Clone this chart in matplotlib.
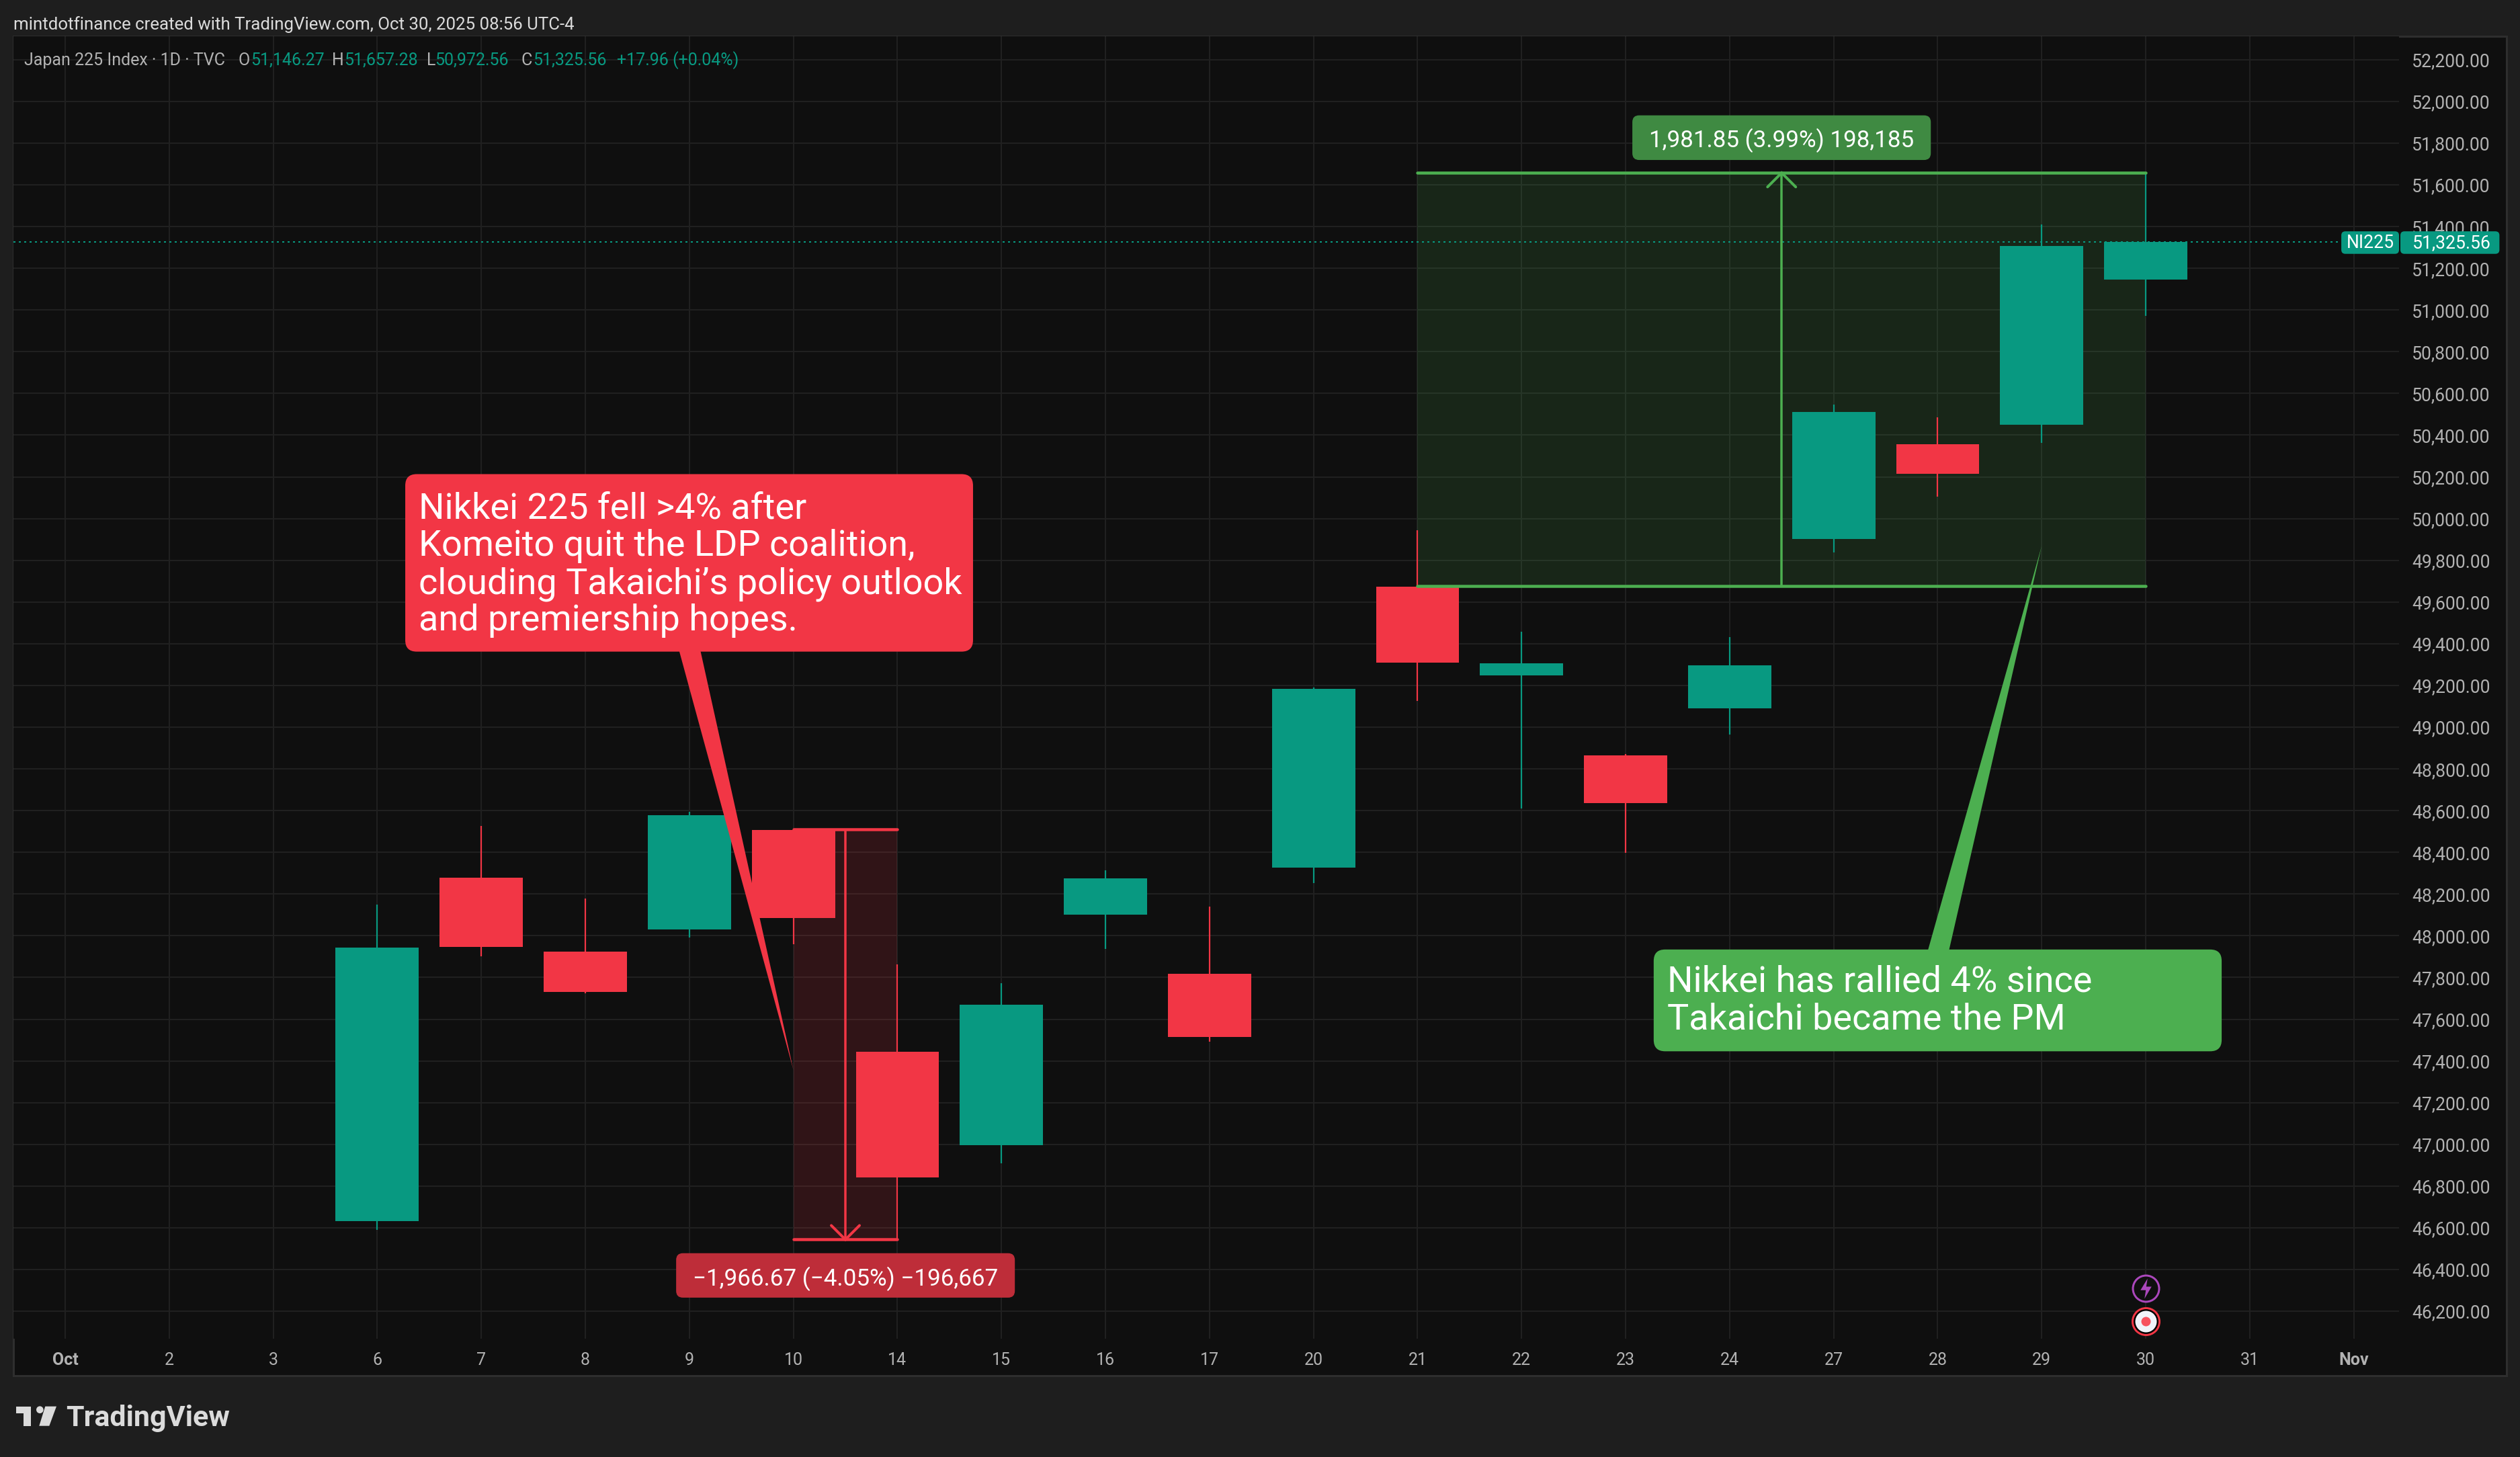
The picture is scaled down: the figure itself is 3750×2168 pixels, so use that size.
import matplotlib
matplotlib.use("Agg")
import matplotlib.pyplot as plt
from matplotlib.patches import FancyBboxPatch, Rectangle, Polygon, Ellipse
from matplotlib.path import Path

W, H = 3750, 2168
DPI = 100
def pt(px): return px * 72 / DPI

# ---------- data ----------
tick_labels = ["Oct","2","3","6","7","8","9","10","14","15","16","17","20","21","22","23","24","27","28","29","30","31","Nov"]
bar_pos = [3,4,5,6,7,8,9,10,11,12,13,14,15,16,17,18,19,20]
opens  = [46632,48278,47924,48030,48508,47444,46996,48101,47818,48326,49674,49248,48865,49091,49902,50356,50449,51146.27]
highs  = [48150,48526,48178,48594,48510,47862,47772,48314,48140,49190,49944,49457,48870,49432,50546,50484,51409,51657.28]
lows   = [46590,47902,47725,47991,47960,46543,46909,47937,47492,48253,49126,48610,48398,48965,49837,50105,50363,50972.56]
closes = [47943,47947,47730,48578,48085,46842,47669,48275,47515,49184,49309,49306,48636,49296,50510,50214,51306,51325.56]
y_ticks = list(range(46200, 52201, 200))
last_price = 51325.56

down_x = [7, 8]; down_y = [48510.0, 46543.33]
up_x = [13, 20]; up_y = [49675.43, 51657.28]

# ---------- colours ----------
BG_OUT = "#1E1E1E"; BG = "#0F0F0F"; BORDER = "#2E2E2E"; GRID = "#202020"
UP = "#089981"; DOWN = "#F23645"; GREEN = "#4CAF50"; TXT = "#B2B2B2"
FONT = "Roboto"; AXF = "Roboto"

fig = plt.figure(figsize=(W/DPI, H/DPI), dpi=DPI, facecolor=BG_OUT)
def fpx(x, y): return x / W, 1 - y / H

# outer pane
fig.add_artist(Rectangle((20/W, 1-2047/H), (3730-20)/W, (2047-54)/H, transform=fig.transFigure,
                         facecolor=BG, edgecolor=BORDER, linewidth=pt(3), zorder=-5))

L, R, T, B = 20, 3570, 54, 1992
ax = fig.add_axes([L/W, 1-B/H, (R-L)/W, (B-T)/H], zorder=1)
ax.set_facecolor(BG)
for s in ax.spines.values(): s.set_visible(False)
ax.set_xlim(-0.4974, 22.435)
ax.set_ylim(46068, 52312)
ax.set_axisbelow(True)
ax.grid(True, color=GRID, linewidth=pt(2))

ax.set_xticks(range(len(tick_labels)))
ax.set_xticklabels(tick_labels, fontname=AXF, fontsize=pt(25), color=TXT)
for lab in ax.get_xticklabels():
    if lab.get_text() in ("Oct", "Nov"):
        lab.set_fontweight("bold")
ax.yaxis.tick_right()
ax.set_yticks(y_ticks)
ax.set_yticklabels([f"{v:,.2f}" for v in y_ticks], fontname=AXF, fontsize=pt(26.5), color=TXT, va="center_baseline")
ax.tick_params(axis="x", length=0, pad=pt(20))
ax.tick_params(axis="y", length=0, pad=pt(19))

# measure tools (fills)
ax.add_patch(Rectangle((down_x[0], down_y[1]), down_x[1]-down_x[0], down_y[0]-down_y[1],
                       facecolor=DOWN, alpha=0.15, edgecolor="none", zorder=1))
ax.add_patch(Rectangle((up_x[0], up_y[0]), up_x[1]-up_x[0], up_y[1]-up_y[0],
                       facecolor=GREEN, alpha=0.15, edgecolor="none", zorder=1))

# price line
ax.plot([-0.4974, 21.88], [last_price, last_price], color=UP, lw=pt(2),
        linestyle=(0, (1.5, 2.5)), zorder=2, dash_capstyle="butt")

# candles
bw = 0.80
for x, o, h, l, c in zip(bar_pos, opens, highs, lows, closes):
    col = UP if c >= o else DOWN
    ax.plot([x, x], [l, h], color=col, lw=pt(2.2), solid_capstyle="butt", zorder=3)
    ax.add_patch(Rectangle((x-bw/2, min(o, c)), bw, abs(c-o), facecolor=col, edgecolor="none", zorder=3.1))

# measure tools (lines, arrows)
def arrow(xs, ys, col, tip_y, sign):
    xm = (xs[0]+xs[1])/2
    for y in ys:
        ax.plot(xs, [y, y], color=col, lw=pt(4.5), solid_capstyle="round", zorder=4)
    ax.plot([xm, xm], ys, color=col, lw=pt(3.5), zorder=4, solid_capstyle="butt")
    dx = 21/154.8; dy = 21/0.3104
    ax.plot([xm-dx, xm, xm+dx], [tip_y-sign*dy, tip_y, tip_y-sign*dy], color=col, lw=pt(4),
            solid_capstyle="round", solid_joinstyle="miter", zorder=4)
arrow(down_x, down_y, DOWN, down_y[1], -1)
arrow(up_x, up_y, GREEN, up_y[1], 1)

ASPECT = (1/0.3104) / (1/154.8)
def rbox(x0, x1, y0, y1, col, r_px, z=6, clip=True):
    b = FancyBboxPatch((x0, y0), x1-x0, y1-y0,
                       boxstyle=f"round,pad=0,rounding_size={r_px/154.8}",
                       mutation_aspect=ASPECT, facecolor=col, edgecolor="none", zorder=z, clip_on=clip)
    ax.add_patch(b)

# measure labels
rbox(15.065, 17.934, 51719, 51933, "#3F8A42", 10)
ax.text(16.5, 51813, "1,981.85 (3.99%) 198,185", color="white", fontname=FONT, fontsize=pt(35),
        ha="center", va="center", zorder=7)
rbox(5.873, 9.129, 46265, 46478, "#BE2D39", 10)
ax.text(7.5, 46357, "\u22121,966.67 (\u22124.05%) \u2212196,667", color="white", fontname=FONT, fontsize=pt(35),
        ha="center", va="center", zorder=7)

# callouts
ax.add_patch(Polygon([(5.90, 49370), (6.105, 49370), (7.0, 47357)], closed=True, facecolor=DOWN, edgecolor="none", zorder=5))
rbox(3.269, 8.727, 49362, 50213, DOWN, 17)
red_lines = ["Nikkei 225 fell >4% after", "Komeito quit the LDP coalition,",
             "clouding Takaichi\u2019s policy outlook", "and premiership hopes."]
for t, yb in zip(red_lines, [50001, 49822, 49641, 49463]):
    ax.text(3.397, yb, t, color="white", fontname=FONT, fontsize=pt(54), ha="left", va="baseline", zorder=7)

ax.add_patch(Polygon([(17.904, 47926), (18.107, 47926), (19.0, 49869)], closed=True, facecolor=GREEN, edgecolor="none", zorder=5))
rbox(15.27, 20.73, 47446, 47934, GREEN, 17)
green_lines = ["Nikkei has rallied 4% since", "Takaichi became the PM"]
for t, yb in zip(green_lines, [47731, 47551]):
    ax.text(15.40, yb, t, color="white", fontname=FONT, fontsize=pt(54), ha="left", va="baseline", zorder=7)

# icons
bolt = Path([(0.15,1),(-0.55,-0.15),(-0.02,-0.15),(-0.15,-1),(0.55,0.2),(0.02,0.2),(0.15,1),(0.15,1)],
            closed=True)
ax.plot([20], [46311], marker="o", ms=pt(39), mfc=BG, mec="#AB47BC", mew=pt(3), zorder=6, clip_on=False)
ax.plot([20], [46311], marker=bolt, ms=pt(30), mfc="#AB47BC", mec="none", zorder=6.1)
ax.plot([20], [46152], marker="o", ms=pt(40), mfc="#000000", mec=DOWN, mew=pt(3), zorder=6, clip_on=False)
ax.plot([20], [46152], marker="o", ms=pt(32), mfc="#F0F3FA", mec="none", zorder=6.1, clip_on=False)
ax.plot([20], [46152], marker="o", ms=pt(14), mfc="#F7525F", mec="none", zorder=6.2, clip_on=False)

# price pills
rbox(21.88, 22.435, 51269, 51377, UP, 6, z=8, clip=False)
rbox(22.448, 23.40, 51269, 51377, UP, 6, z=8, clip=False)
ax.text(22.157, 51297, "NI225", color="white", fontname=AXF, fontsize=pt(26.5), ha="center", va="baseline", zorder=9, clip_on=False)
ax.text(22.565, 51297, f"{last_price:,.2f}", color="white", fontname=AXF, fontsize=pt(26.5), ha="left", va="baseline", zorder=9, clip_on=False)

# header
x, y = fpx(20, 37)
fig.text(x, y, "mintdotfinance created with TradingView.com, Oct 30, 2025 08:56 UTC-4", color="#DBDBDB",
         fontname=AXF, fontsize=pt(25.9), va="center", ha="left")
parts = [(36,"Japan 225 Index \u00b7 1D \u00b7 TVC",TXT),(355,"O",TXT),(373,"51,146.27",UP),(494,"H",TXT),(512.6,"51,657.28",UP),
         (635,"L",TXT),(647,"50,972.56",UP),(775.6,"C",TXT),(793,"51,325.56",UP),(918,"+17.96 (+0.04%)",UP)]
for px_, t, c in parts:
    x, y = fpx(px_, 90)
    fig.text(x, y, t, color=c, fontname=AXF, fontsize=pt(25), va="center", ha="left", zorder=5)

# footer logo
x, y = fpx(98, 2121.7)
fig.text(x, y, "TradingView", color="#DBDBDB", fontname=AXF, fontweight="bold", fontsize=pt(43), va="baseline", ha="left")
def fp(pts): return [fpx(a, b) for a, b in pts]
fig.add_artist(Polygon(fp([(24,2092.7),(46,2092.7),(46,2121.7),(35,2121.7),(35,2103),(24,2103)]), transform=fig.transFigure, fc="#DBDBDB", ec="none"))
fig.add_artist(Polygon(fp([(67.3,2092.7),(84,2092.7),(73.3,2121.7),(58.3,2121.7)]), transform=fig.transFigure, fc="#DBDBDB", ec="none"))
fig.add_artist(Ellipse((59.3/W, 1-2097.7/H), 10.6/W, 10.6/H, transform=fig.transFigure, fc="#DBDBDB", ec="none"))

fig.savefig("out.png", dpi=DPI, facecolor=BG_OUT)
